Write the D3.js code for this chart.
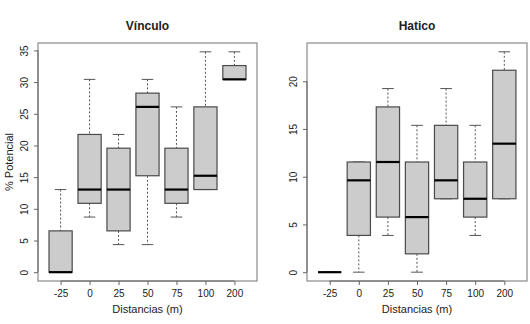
<!DOCTYPE html>
<html>
<head>
    <meta charset="UTF-8">
    <title>Boxplots Vinculo / Hatico</title>
    <style>
        body {
            margin: 0;
            overflow: hidden;
            background-color: #ffffff;
        }
        text {
            font-family: "Liberation Sans", Arial, sans-serif;
            fill: #222;
        }
    </style>
    <script src="https://cdn.jsdelivr.net/npm/d3@7"></script>
</head>
<body>
    <script>
        // categorias del eje x
        const distancias = ["-25", "0", "25", "50", "75", "100", "200"];

        // Vinculo: bigote inferior, Q1, mediana, Q3, bigote superior
        const vinLow = [0, 8.70, 4.35, 4.35, 8.70, 13.04, 30.43];
        const vinQ1 = [0, 10.87, 6.52, 15.22, 10.87, 13.04, 30.43];
        const vinMed = [0, 13.04, 13.04, 26.09, 13.04, 15.22, 30.43];
        const vinQ3 = [6.52, 21.74, 19.57, 28.26, 19.57, 26.09, 32.61];
        const vinHigh = [13.04, 30.43, 21.74, 30.43, 26.09, 34.78, 34.78];
        const vinTicks = [0, 5, 10, 15, 20, 25, 30, 35];

        // Hatico
        const hatLow = [0, 0, 3.85, 0, 7.69, 3.85, 7.69];
        const hatQ1 = [0, 3.85, 5.77, 1.92, 7.69, 5.77, 7.69];
        const hatMed = [0, 9.62, 11.54, 5.77, 9.62, 7.69, 13.46];
        const hatQ3 = [0, 11.54, 17.31, 11.54, 15.38, 11.54, 21.15];
        const hatHigh = [0, 11.54, 19.23, 15.38, 19.23, 15.38, 23.08];
        const hatTicks = [0, 5, 10, 15, 20];

        const width = 530, height = 324;
        const svg = d3.select("body").append("svg")
            .attr("width", width)
            .attr("height", height);

        const panels = [
            {title: "Vínculo", left: 38, right: 257, low: vinLow, q1: vinQ1, med: vinMed, q3: vinQ3, high: vinHigh, ticks: vinTicks, ylab: "% Potencial"},
            {title: "Hatico", left: 307, right: 527, low: hatLow, q1: hatQ1, med: hatMed, q3: hatQ3, high: hatHigh, ticks: hatTicks, ylab: null}
        ];
        const plotTop = 43, plotBottom = 281;

        panels.forEach(p => {
            const g = svg.append("g");
            const n = distancias.length;
            // como R: xlim 0.5..n+0.5 con 4% extra
            const ext = n * 0.04;
            const x = d3.scaleLinear()
                .domain([0.5 - ext, n + 0.5 + ext])
                .range([p.left, p.right]);
            const ymax = d3.max(p.high);
            const yext = ymax * 0.04;
            const y = d3.scaleLinear()
                .domain([-yext, ymax + yext])
                .range([plotBottom, plotTop]);

            const hw = x(1.4) - x(1); // media anchura de caja
            const sw = hw / 2;        // media anchura del remate

            const rows = distancias.map((d, i) => ({
                i: i + 1, low: p.low[i], q1: p.q1[i], med: p.med[i], q3: p.q3[i], high: p.high[i]
            }));

            const box = g.selectAll("g.bx").data(rows).join("g").attr("class", "bx");
            // bigotes punteados
            box.append("line")
                .attr("x1", d => x(d.i)).attr("x2", d => x(d.i))
                .attr("y1", d => y(d.high)).attr("y2", d => y(d.q3))
                .attr("stroke", "#555").attr("stroke-dasharray", "2,2");
            box.append("line")
                .attr("x1", d => x(d.i)).attr("x2", d => x(d.i))
                .attr("y1", d => y(d.q1)).attr("y2", d => y(d.low))
                .attr("stroke", "#555").attr("stroke-dasharray", "2,2");
            // remates
            box.append("line")
                .attr("x1", d => x(d.i) - sw).attr("x2", d => x(d.i) + sw)
                .attr("y1", d => y(d.high)).attr("y2", d => y(d.high))
                .attr("stroke", "#555");
            box.append("line")
                .attr("x1", d => x(d.i) - sw).attr("x2", d => x(d.i) + sw)
                .attr("y1", d => y(d.low)).attr("y2", d => y(d.low))
                .attr("stroke", "#555");
            // caja
            box.append("rect")
                .attr("x", d => x(d.i) - hw)
                .attr("width", 2 * hw)
                .attr("y", d => y(d.q3))
                .attr("height", d => y(d.q1) - y(d.q3))
                .attr("fill", "#cccccc")
                .attr("stroke", "#4a4a4a")
                .attr("stroke-width", 1.2);
            // mediana
            box.append("line")
                .attr("x1", d => x(d.i) - hw).attr("x2", d => x(d.i) + hw)
                .attr("y1", d => y(d.med)).attr("y2", d => y(d.med))
                .attr("stroke", "#000").attr("stroke-width", 2.2);

            // marco
            g.append("rect")
                .attr("x", p.left).attr("y", plotTop)
                .attr("width", p.right - p.left).attr("height", plotBottom - plotTop)
                .attr("fill", "none").attr("stroke", "#8a8a8a").attr("stroke-width", 1.2);

            // eje y
            const ya = g.append("g")
                .attr("transform", `translate(${p.left},0)`)
                .call(d3.axisLeft(y).tickValues(p.ticks).tickSize(4).tickSizeOuter(0).tickFormat(d3.format("d")));
            ya.select(".domain").attr("stroke", "#666")
                .attr("d", `M0,${y(p.ticks[0])}V${y(p.ticks[p.ticks.length - 1])}`);
            ya.selectAll(".tick line").attr("stroke", "#666");
            ya.selectAll(".tick text")
                .attr("x", 0).attr("dy", 0)
                .attr("transform", "translate(-10,0) rotate(-90)")
                .attr("text-anchor", "middle")
                .style("font-size", "10px")
                .style("font-family", "Liberation Sans, Arial, sans-serif")
                .attr("fill", "#222");

            // eje x
            const xa = g.append("g")
                .attr("transform", `translate(0,${plotBottom})`)
                .call(d3.axisBottom(x).tickValues(d3.range(1, n + 1)).tickSize(4).tickSizeOuter(0)
                    .tickFormat((d, i) => distancias[i]));
            xa.select(".domain").attr("stroke", "#666")
                .attr("d", `M${x(1)},0H${x(n)}`);
            xa.selectAll(".tick line").attr("stroke", "#666");
            xa.selectAll(".tick text")
                .attr("y", 9)
                .style("font-size", "10px")
                .style("font-family", "Liberation Sans, Arial, sans-serif")
                .attr("fill", "#222");

            // titulos
            g.append("text")
                .attr("x", (p.left + p.right) / 2)
                .attr("y", 30)
                .attr("text-anchor", "middle")
                .style("font-size", "12px")
                .style("font-weight", "bold")
                .text(p.title);
            g.append("text")
                .attr("x", (p.left + p.right) / 2)
                .attr("y", 313)
                .attr("text-anchor", "middle")
                .style("font-size", "11px")
                .text("Distancias (m)");
            if (p.ylab) {
                g.append("text")
                    .attr("transform", `translate(13,${(plotTop + plotBottom) / 2}) rotate(-90)`)
                    .attr("text-anchor", "middle")
                    .style("font-size", "11px")
                    .text(p.ylab);
            }
        });
    </script>
</body>
</html>
